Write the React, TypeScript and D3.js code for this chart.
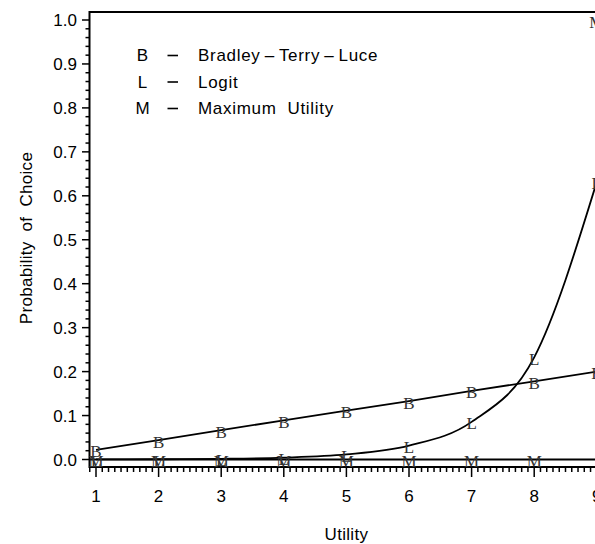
import React from "react";
import * as d3 from "d3";

const utilities = [1, 2, 3, 4, 5, 6, 7, 8, 9];
const btlValues = [0.022, 0.044, 0.067, 0.089, 0.111, 0.133, 0.156, 0.178, 0.2];
const logitValues = [0.0002, 0.0006, 0.0016, 0.0043, 0.0116, 0.0315, 0.0856, 0.2325, 0.632];
const maxUtilValues = [0, 0, 0, 0, 0, 0, 0, 0, 1];
const yTickLabels = ["0.0", "0.1", "0.2", "0.3", "0.4", "0.5", "0.6", "0.7", "0.8", "0.9", "1.0"];
const xTickLabels = ["1", "2", "3", "4", "5", "6", "7", "8", "9"];
const legendItems = [
  { sym: "B", label: "Bradley\u2009\u2013\u2009Terry\u2009\u2013\u2009Luce" },
  { sym: "L", label: "Logit" },
  { sym: "M", label: "Maximum  Utility" },
];

const W = 595;
const H = 544;
const FRAME_LEFT = 89.5;
const FRAME_TOP = 12;
const FRAME_BOTTOM = 467;
const FRAME_RIGHT = 640;

const x = d3.scaleLinear().domain([1, 9]).range([96, 596.8]);
const y = d3.scaleLinear().domain([0, 1]).range([459.5, 20]);

const sans = "'Liberation Sans', Arial, Helvetica, sans-serif";
const serif = "'Liberation Serif', 'Times New Roman', serif";

export default function App() {
  const btlLine = d3
    .line<number>()
    .x((_, i) => x(utilities[i]))
    .y((d) => y(d))(btlValues) as string;
  const logitLine = d3
    .line<number>()
    .x((_, i) => x(utilities[i]))
    .y((d) => y(d))
    .curve(d3.curveMonotoneX)(logitValues) as string;

  const yMinor = d3.range(0, 51).map((i) => i / 50);
  const xMinor = d3.range(-1, 92).map((i) => 1 + i / 10).filter((v) => x(v) >= FRAME_LEFT);

  const markers: { u: number; v: number; s: string }[] = [];
  utilities.forEach((u, i) => {
    markers.push({ u, v: maxUtilValues[i], s: "M" });
    markers.push({ u, v: logitValues[i], s: "L" });
    markers.push({ u, v: btlValues[i], s: "B" });
  });

  return (
    <svg
      width={W}
      height={H}
      style={{ position: "absolute", left: 0, top: 0, display: "block", background: "#fff" }}
    >
      <rect x={0} y={0} width={W} height={H} fill="#fff" />
      <path
        d={`M${FRAME_RIGHT},${FRAME_TOP}H${FRAME_LEFT}V${FRAME_BOTTOM}H${FRAME_RIGHT}`}
        fill="none"
        stroke="#000"
        strokeWidth={2}
      />
      {yMinor.map((v, i) => (
        <line
          key={"ym" + i}
          x1={i % 5 === 0 ? 82 : 85.5}
          x2={FRAME_LEFT}
          y1={y(v)}
          y2={y(v)}
          stroke="#000"
          strokeWidth={1.5}
        />
      ))}
      {yTickLabels.map((t, i) => (
        <text
          key={"yl" + i}
          x={77}
          y={y(i / 10) + 6}
          textAnchor="end"
          fontFamily={sans}
          fontSize={17}
          fill="#000"
        >
          {t}
        </text>
      ))}
      {xMinor.map((v, i) => {
        const major = Math.abs(v - Math.round(v)) < 1e-6;
        return (
          <line
            key={"xm" + i}
            x1={x(v)}
            x2={x(v)}
            y1={FRAME_BOTTOM}
            y2={major ? FRAME_BOTTOM + 10 : FRAME_BOTTOM + 5}
            stroke="#000"
            strokeWidth={1.5}
          />
        );
      })}
      {xTickLabels.map((t, i) => (
        <text
          key={"xl" + i}
          x={x(utilities[i])}
          y={501.5}
          textAnchor="middle"
          fontFamily={sans}
          fontSize={17}
          fill="#000"
        >
          {t}
        </text>
      ))}
      <text
        transform={`translate(32,238) rotate(-90)`}
        textAnchor="middle"
        fontFamily={sans}
        fontSize={17}
        letterSpacing={0.3}
        fill="#000"
        style={{ whiteSpace: "pre" }}
      >
        {"Probability  of  Choice"}
      </text>
      <text
        x={(x(1) + x(9)) / 2}
        y={539.5}
        textAnchor="middle"
        fontFamily={sans}
        fontSize={17}
        letterSpacing={0.3}
        fill="#000"
      >
        Utility
      </text>
      <line x1={FRAME_LEFT} x2={FRAME_RIGHT} y1={y(0)} y2={y(0)} stroke="#000" strokeWidth={2} />
      <path d={btlLine} fill="none" stroke="#000" strokeWidth={1.8} />
      <path d={logitLine} fill="none" stroke="#000" strokeWidth={1.8} />
      {markers.map((m, i) => (
        <text
          key={"mk" + i}
          x={x(m.u)}
          y={y(m.v) + 7.5}
          textAnchor="middle"
          fontFamily={serif}
          fontSize={17}
          fill="#333"
        >
          {m.s}
        </text>
      ))}
      {legendItems.map((it, i) => {
        const base = 61 + i * 26.5;
        return (
          <g key={"lg" + i}>
            <text x={142.5} y={base} textAnchor="middle" fontFamily={sans} fontSize={17} fill="#000">
              {it.sym}
            </text>
            <line x1={167.5} x2={178} y1={base - 5.5} y2={base - 5.5} stroke="#000" strokeWidth={1.6} />
            <text
              x={198}
              y={base}
              fontFamily={sans}
              fontSize={17}
              letterSpacing={0.7}
              fill="#000"
              style={{ whiteSpace: "pre" }}
            >
              {it.label}
            </text>
          </g>
        );
      })}
    </svg>
  );
}
